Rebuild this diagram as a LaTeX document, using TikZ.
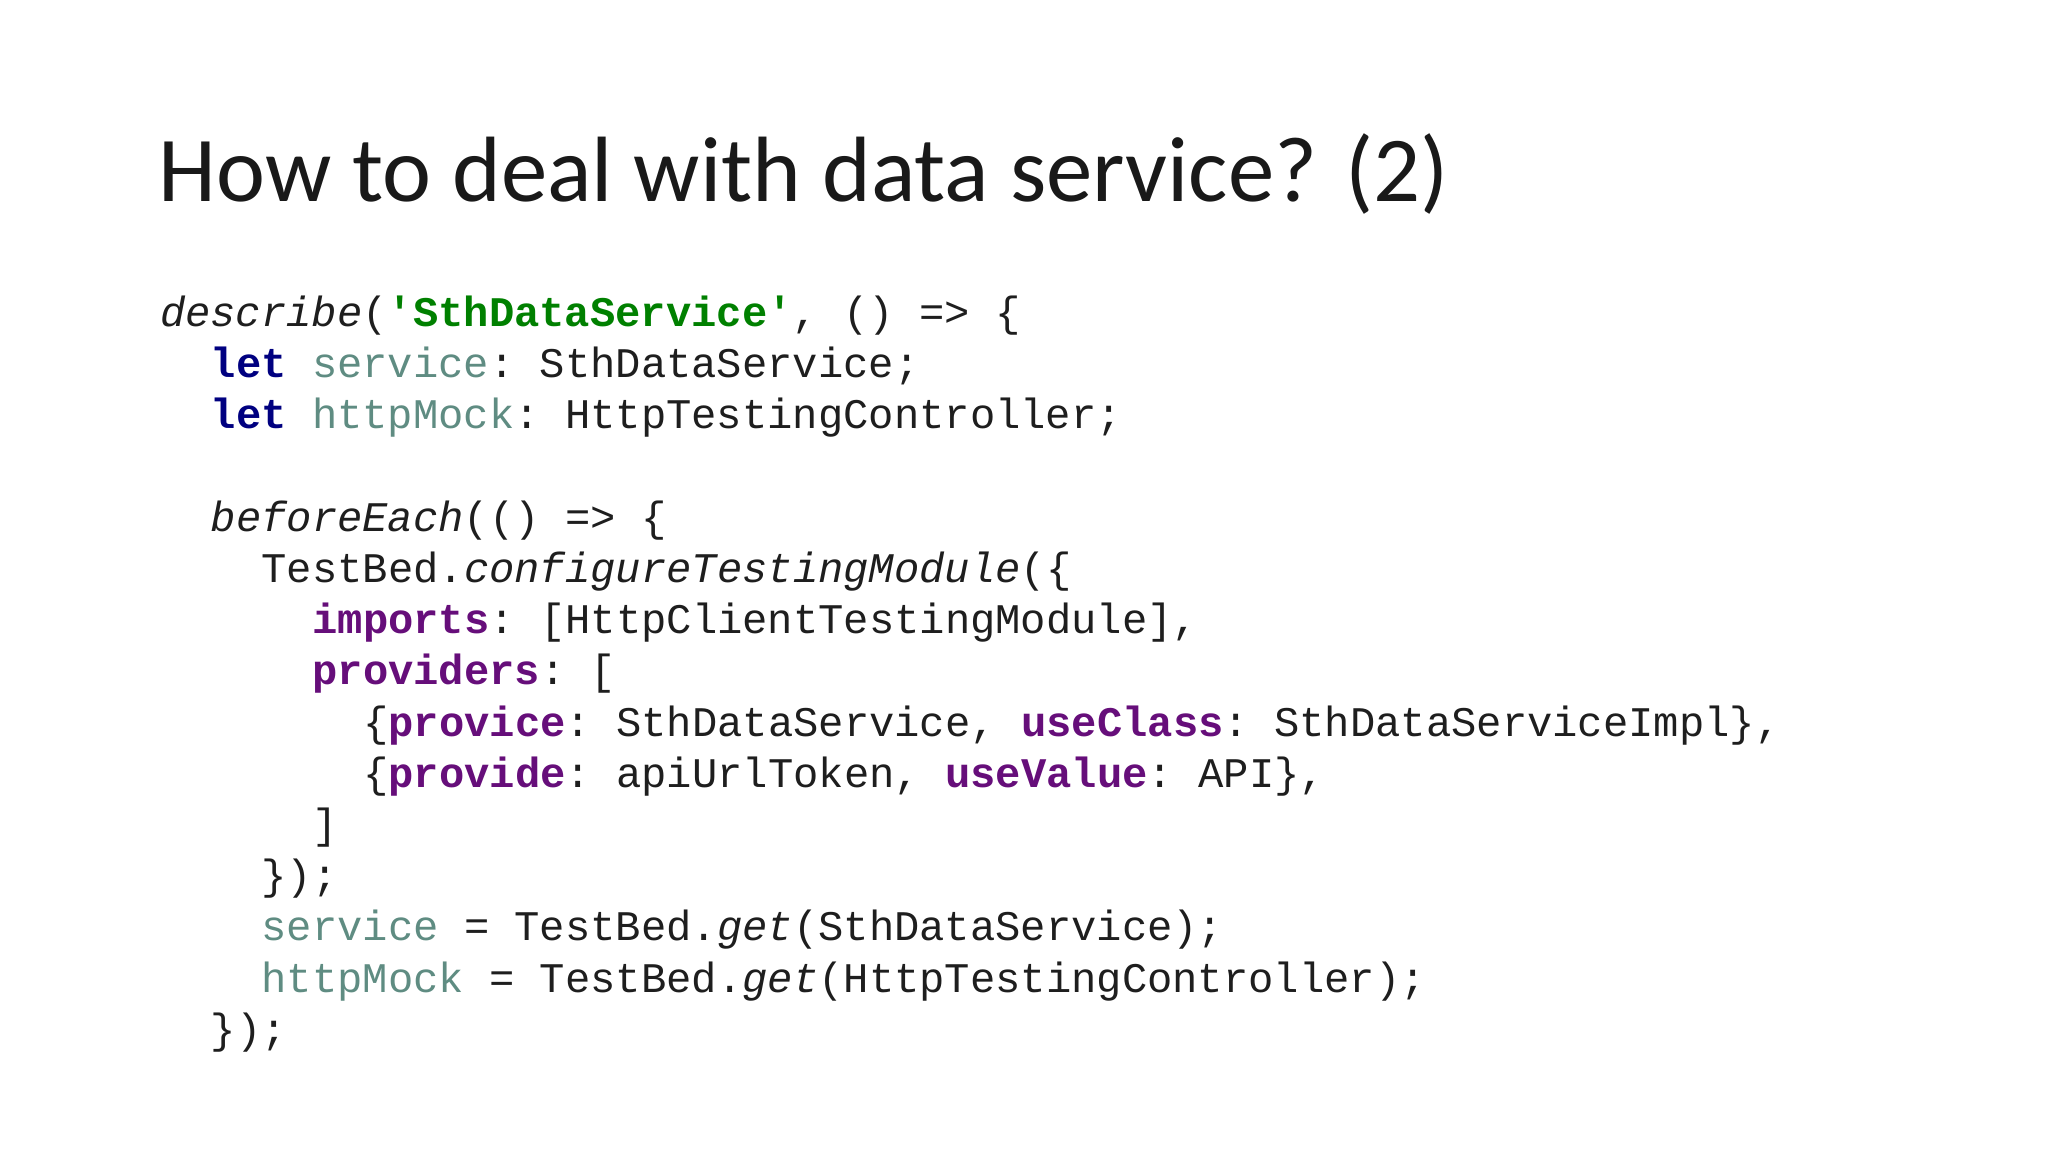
\documentclass[tikz,border=0pt]{standalone}
\usepackage{fontspec}
\setmainfont{Carlito}
\setmonofont{Liberation Mono}
\usetikzlibrary{positioning}
\definecolor{strgreen}{RGB}{0,128,0}
\definecolor{kwblue}{RGB}{0,0,128}
\definecolor{idteal}{RGB}{95,140,130}
\definecolor{keypurple}{RGB}{102,14,122}
\definecolor{codegray}{RGB}{30,30,30}
\newcommand{\kw}[1]{\textcolor{kwblue}{\textbf{#1}}}
\newcommand{\vr}[1]{\textcolor{idteal}{#1}}
\newcommand{\ky}[1]{\textcolor{keypurple}{\textbf{#1}}}
\begin{document}
\begin{tikzpicture}
	[code/.style={anchor=base west, inner sep=0pt, text=codegray,
	  font=\ttfamily\fontsize{12pt}{14pt}\selectfont}]
	\useasboundingbox (0,0) rectangle (20.48,11.52);
	% title %
	\node[anchor=base west, inner sep=0pt, text=black!90, font=\fontsize{26.4pt}{30pt}\selectfont] (title)
	  at (1.58,9.50) {How to deal with data service? (2)};
	% code lines %
	\node[code] (l0) at (1.593,8.255) {\textit{describe}(\textcolor{strgreen}{\textbf{'SthDataService'}}, () => \{};
	\node[code] (l1) at (2.101,7.743) {\kw{let} \vr{service}: SthDataService;};
	\node[code] (l2) at (2.101,7.231) {\kw{let} \vr{httpMock}: HttpTestingController;};
	\node[code] (l4) at (2.101,6.207) {\textit{beforeEach}(() => \{};
	\node[code] (l5) at (2.609,5.695) {TestBed.\textit{configureTestingModule}(\{};
	\node[code] (l6) at (3.117,5.183) {\ky{imports}: [HttpClientTestingModule],};
	\node[code] (l7) at (3.117,4.671) {\ky{providers}: [};
	\node[code] (l8) at (3.625,4.159) {\{\ky{provice}: SthDataService, \ky{useClass}: SthDataServiceImpl\},};
	\node[code] (l9) at (3.625,3.647) {\{\ky{provide}: apiUrlToken, \ky{useValue}: API\},};
	\node[code] (l10) at (3.117,3.135) {]};
	\node[code] (l11) at (2.609,2.623) {\});};
	\node[code] (l12) at (2.609,2.111) {\vr{service} = TestBed.\textit{get}(SthDataService);};
	\node[code] (l13) at (2.609,1.599) {\vr{httpMock} = TestBed.\textit{get}(HttpTestingController);};
	\node[code] (l14) at (2.101,1.087) {\});};
\end{tikzpicture}
\end{document}
